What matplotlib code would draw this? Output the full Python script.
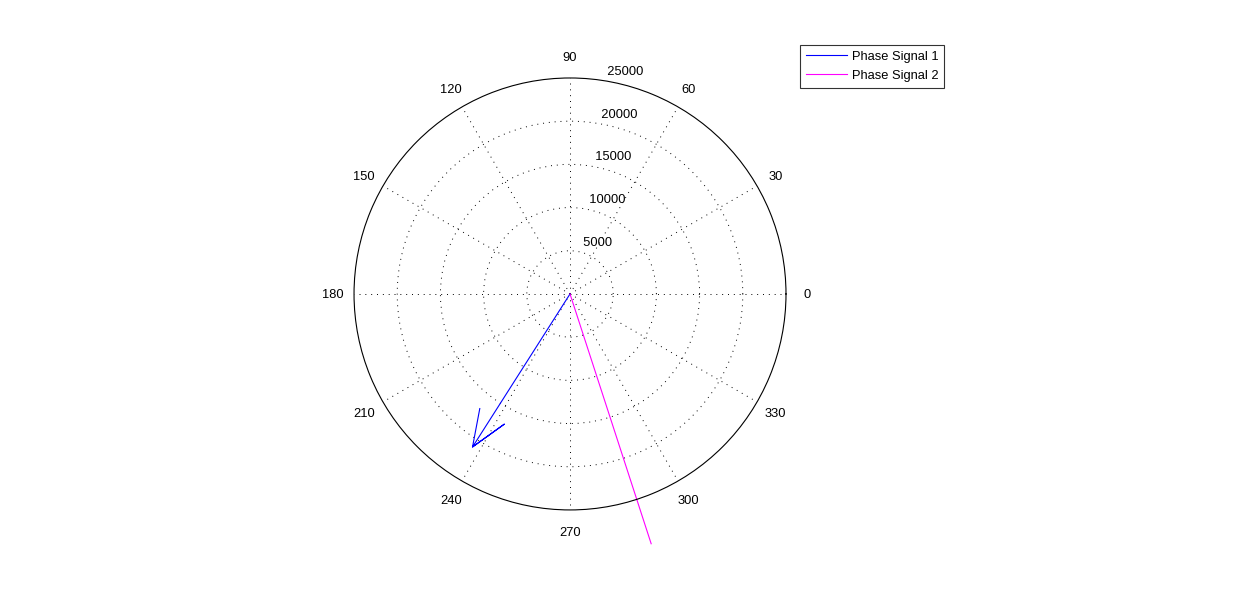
import matplotlib
matplotlib.use('Agg')
import matplotlib.pyplot as plt
import numpy as np

# compass data (angle in degrees, magnitude)
signal_names = ["Phase Signal 1", "Phase Signal 2"]
signal_angles = [237.5, 288.0]
signal_mags = [21000, 30400]
signal_colors = ["#0000ff", "#ff00ff"]
signal_heads = [True, False]

r_ticks = [5000, 10000, 15000, 20000, 25000]
theta_ticks = [0, 30, 60, 90, 120, 150, 180, 210, 240, 270, 300, 330]
r_max = 25000

plt.rcParams['font.family'] = ['Liberation Sans', 'DejaVu Sans']
plt.rcParams['font.size'] = 9.3

fig = plt.figure(figsize=(12.59, 6.10), dpi=100)
ax = fig.add_axes([0.2812, 0.1640, 0.3431, 0.7082], projection='polar')
ax.set_ylim(0, r_max)

dotted = (0, (1, 5))
ax.set_rgrids(r_ticks[:-1], labels=[''] * (len(r_ticks) - 1))
ax.set_thetagrids(theta_ticks, labels=[''] * len(theta_ticks))
ax.grid(True, color='black', linestyle=dotted, linewidth=0.7)
ax.spines['polar'].set_linewidth(0.8)
ax.spines['polar'].set_color('black')
ax.tick_params(length=0)

# radial labels, MATLAB style: placed along 82 degrees
for r in r_ticks:
    rr = r + 5000 / 20.0
    ax.text(np.deg2rad(82), rr, '  ' + str(r), ha='left', va='bottom',
            clip_on=False)

# angle labels outside the circle
for t in theta_ticks:
    ax.text(np.deg2rad(t), 1.1 * r_max, str(t), ha='center',
            va='center_baseline', clip_on=False)

# compass arrows
xx = np.array([0, 1, .8, 1, .8])
yy = np.array([0, 0, .08, 0, -.08])
for name, ang, mag, col, head in zip(signal_names, signal_angles, signal_mags,
                                     signal_colors, signal_heads):
    z = (xx + 1j * yy) * mag * np.exp(1j * np.deg2rad(ang))
    if not head:
        z = z[:2]
    th = np.angle(z)
    th[0] = th[1]
    ax.plot(th, np.abs(z), color=col, linewidth=0.8, label=name,
            clip_on=False)

leg = fig.legend(loc='upper left', bbox_to_anchor=(800 / 1259, 1 - 45 / 610),
                 frameon=True, fancybox=False, shadow=False,
                 handlelength=3.2, handletextpad=0.35, labelspacing=0.55,
                 borderpad=0.45, borderaxespad=0)
leg.get_frame().set_edgecolor('black')
leg.get_frame().set_linewidth(0.8)

fig.savefig('out.png', dpi=100)
